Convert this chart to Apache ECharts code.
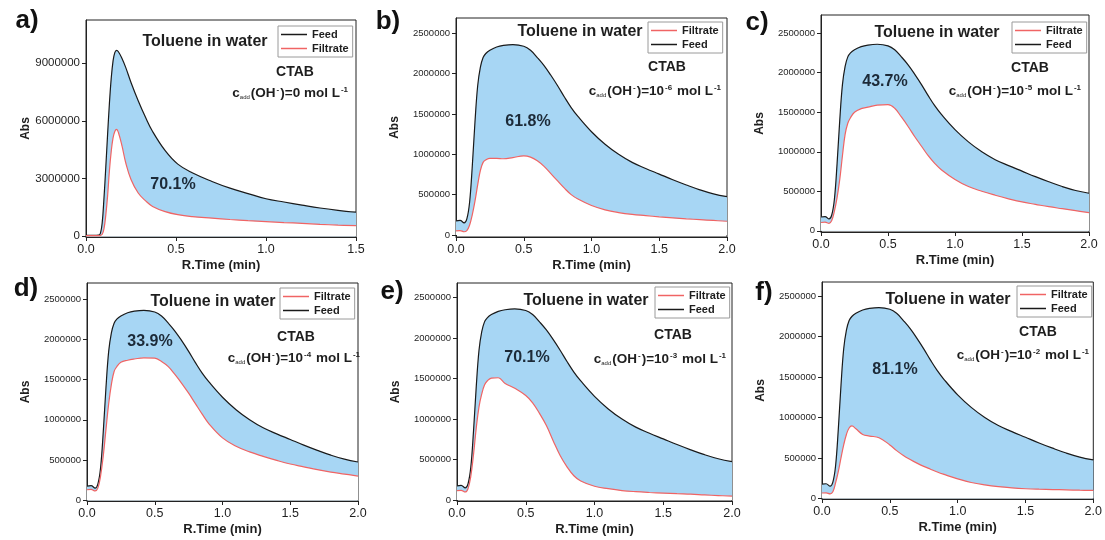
<!DOCTYPE html>
<html>
<head>
<meta charset="utf-8">
<script src="https://cdn.jsdelivr.net/npm/echarts@6/dist/echarts.min.js"></script>
<style>
  html, body { margin: 0; padding: 0; background: #ffffff; }
  #chart { width: 1105px; height: 540px; }
</style>
</head>
<body>
<div id="chart"></div>
<script>
// ---- Chromatogram traces: R.Time (min) vs Abs ----
// Panel a (no added OH-)
const timeA = [0, 0.04, 0.07, 0.08, 0.09, 0.10, 0.11, 0.12, 0.13, 0.14, 0.15, 0.16, 0.17, 0.18, 0.20, 0.22, 0.25, 0.29, 0.33, 0.37, 0.44, 0.51, 0.59, 0.70, 0.80, 0.90, 1.00, 1.10, 1.20, 1.30, 1.40, 1.50];
const feedA = [50000, 50000, 60000, 150000, 700000, 2000000, 3600000, 5300000, 6900000, 8200000, 9100000, 9550000, 9670000, 9600000, 9250000, 8800000, 8000000, 7050000, 6200000, 5450000, 4450000, 3750000, 3300000, 2850000, 2500000, 2220000, 1950000, 1780000, 1620000, 1470000, 1350000, 1250000];
const filtrateA = [30000, 30000, 30000, 40000, 100000, 400000, 1100000, 2100000, 3400000, 4400000, 5100000, 5450000, 5560000, 5400000, 4700000, 3850000, 2950000, 2250000, 1850000, 1550000, 1280000, 1120000, 1020000, 940000, 870000, 810000, 760000, 710000, 670000, 620000, 580000, 550000];

// Panels b-f share the same feed trace
const timeBF = [0, 0.03, 0.06, 0.08, 0.10, 0.12, 0.14, 0.16, 0.18, 0.20, 0.22, 0.25, 0.30, 0.35, 0.42, 0.50, 0.55, 0.60, 0.65, 0.70, 0.75, 0.80, 0.85, 0.90, 1.0, 1.1, 1.2, 1.3, 1.4, 1.5, 1.6, 1.7, 1.8, 1.9, 2.0];
const feedBF = [175000, 180000, 150000, 200000, 400000, 850000, 1400000, 1850000, 2080000, 2200000, 2250000, 2290000, 2330000, 2350000, 2360000, 2340000, 2290000, 2200000, 2100000, 1980000, 1850000, 1710000, 1580000, 1470000, 1280000, 1125000, 1000000, 900000, 825000, 755000, 685000, 620000, 560000, 510000, 475000];
const filtrateB = [50000, 55000, 40000, 55000, 120000, 250000, 420000, 620000, 800000, 900000, 930000, 950000, 950000, 945000, 960000, 980000, 965000, 920000, 850000, 760000, 670000, 580000, 500000, 445000, 365000, 312000, 278000, 255000, 240000, 225000, 212000, 200000, 190000, 180000, 170000];
const filtrateC = [105000, 110000, 95000, 130000, 250000, 420000, 650000, 950000, 1220000, 1360000, 1430000, 1500000, 1545000, 1565000, 1590000, 1595000, 1550000, 1440000, 1320000, 1190000, 1070000, 950000, 850000, 770000, 650000, 560000, 500000, 450000, 405000, 365000, 335000, 305000, 280000, 255000, 230000];
const filtrateD = [130000, 135000, 115000, 150000, 300000, 550000, 880000, 1200000, 1440000, 1600000, 1660000, 1715000, 1740000, 1755000, 1770000, 1765000, 1725000, 1660000, 1560000, 1450000, 1330000, 1200000, 1070000, 950000, 775000, 670000, 600000, 545000, 495000, 450000, 415000, 380000, 350000, 325000, 300000];
const filtrateE = [115000, 120000, 100000, 140000, 290000, 560000, 890000, 1150000, 1310000, 1420000, 1470000, 1505000, 1510000, 1440000, 1380000, 1290000, 1200000, 1070000, 920000, 730000, 550000, 410000, 300000, 235000, 170000, 140000, 117000, 103000, 93000, 85000, 78000, 72000, 63000, 55000, 48000];
const filtrateF = [65000, 68000, 55000, 80000, 190000, 330000, 500000, 660000, 790000, 870000, 895000, 860000, 790000, 770000, 750000, 660000, 590000, 530000, 480000, 435000, 395000, 360000, 325000, 295000, 240000, 195000, 165000, 143000, 128000, 118000, 112000, 108000, 104000, 100000, 97000];

// ---- Tick labels and annotations ----
const yTicksA = [0, 3000000, 6000000, 9000000];
const yTicksBF = [0, 500000, 1000000, 1500000, 2000000, 2500000];
const panelLetters = ['a)', 'b)', 'c)', 'd)', 'e)', 'f)'];
const removalLabels = ['70.1%', '61.8%', '43.7%', '33.9%', '70.1%', '81.1%'];
const ohExponents = ['0', '-6', '-5', '-4', '-3', '-2'];
const legendOrders = [['Feed', 'Filtrate'], ['Filtrate', 'Feed'], ['Filtrate', 'Feed'], ['Filtrate', 'Feed'], ['Filtrate', 'Feed'], ['Filtrate', 'Feed']];

const traces = [
  { time: timeA, feed: feedA, filtrate: filtrateA },
  { time: timeBF, feed: feedBF, filtrate: filtrateB },
  { time: timeBF, feed: feedBF, filtrate: filtrateC },
  { time: timeBF, feed: feedBF, filtrate: filtrateD },
  { time: timeBF, feed: feedBF, filtrate: filtrateE },
  { time: timeBF, feed: feedBF, filtrate: filtrateF }
];

// ---- Layout of the six panels (pixels) ----
const layout = [
  { grid: [86, 20, 270, 217], xMax: 1.5, yMin: -40000, yMax: 11250000, yTicks: yTicksA, yLabelSize: 11.5,
    letter: [27, 21], title: [205, 42], legend: [278, 26], ctab: [295, 72], conc: [349, 93], pct: [173, 185] },
  { grid: [456, 18, 271, 219], xMax: 2, yMin: -25000, yMax: 2690000, yTicks: yTicksBF, yLabelSize: 9.5,
    letter: [388, 22], title: [580, 32], legend: [648, 22], ctab: [667, 67], conc: [722, 91], pct: [528, 122] },
  { grid: [821, 15, 268, 217], xMax: 2, yMin: -15000, yMax: 2730000, yTicks: yTicksBF, yLabelSize: 9.5,
    letter: [757, 23], title: [937, 33], legend: [1012, 22], ctab: [1030, 68], conc: [1082, 91], pct: [885, 82] },
  { grid: [87, 283, 271, 218], xMax: 2, yMin: -10000, yMax: 2700000, yTicks: yTicksBF, yLabelSize: 9.5,
    letter: [26, 289], title: [213, 302], legend: [280, 288], ctab: [296, 337], conc: [361, 358], pct: [150, 342] },
  { grid: [457, 283, 275, 218], xMax: 2, yMin: -12000, yMax: 2680000, yTicks: yTicksBF, yLabelSize: 9.5,
    letter: [392, 292], title: [586, 301], legend: [655, 287], ctab: [673, 335], conc: [727, 359], pct: [527, 358] },
  { grid: [822, 282, 272, 217], xMax: 2, yMin: -9000, yMax: 2677000, yTicks: yTicksBF, yLabelSize: 9.5,
    letter: [764, 293], title: [948, 300], legend: [1017, 286], ctab: [1038, 332], conc: [1090, 355], pct: [895, 370] }
];

const FONT = '"Liberation Sans", Arial, Helvetica, sans-serif';
const FILL_BLUE = '#a7d6f4';
const FEED_COLOR = '#1a1a1a';
const FILTRATE_COLOR = '#f06464';
const TEXT_COLOR = '#1e1e1e';

const grids = [], xAxes = [], yAxes = [], series = [], legends = [], graphics = [];

layout.forEach((p, i) => {
  grids.push({
    left: p.grid[0], top: p.grid[1], width: p.grid[2], height: p.grid[3],
    show: true, borderColor: '#222', borderWidth: 1, backgroundColor: 'transparent'
  });
  xAxes.push({
    gridIndex: i, type: 'value', min: 0, max: p.xMax, interval: 0.5,
    name: 'R.Time (min)', nameLocation: 'middle', nameGap: 22,
    nameTextStyle: { fontFamily: FONT, fontWeight: 'bold', fontSize: 13, color: TEXT_COLOR },
    axisLine: { show: true, onZero: false, lineStyle: { color: '#222', width: 1 } },
    axisTick: { show: true, inside: false, length: 4, lineStyle: { color: '#222' } },
    axisLabel: { fontFamily: FONT, fontSize: 12.5, color: TEXT_COLOR, margin: 6, formatter: v => v.toFixed(1) },
    splitLine: { show: false }
  });
  yAxes.push({
    gridIndex: i, type: 'value', min: p.yMin, max: p.yMax,
    name: 'Abs', nameLocation: 'middle', nameGap: i === 0 ? 53 : 55,
    nameTextStyle: { fontFamily: FONT, fontWeight: 'bold', fontSize: 12, color: TEXT_COLOR },
    axisLine: { show: true, onZero: false, lineStyle: { color: '#222', width: 1 } },
    axisTick: { show: true, inside: false, length: 4, customValues: p.yTicks, lineStyle: { color: '#222' } },
    axisLabel: { fontFamily: FONT, fontSize: p.yLabelSize, color: TEXT_COLOR, margin: 6,
                 customValues: p.yTicks, formatter: v => String(Math.round(v)) },
    splitLine: { show: false }
  });

  const tr = traces[i];
  const feedPts = tr.time.map((t, k) => [t, tr.feed[k]]);
  const filtPts = tr.time.map((t, k) => [t, tr.filtrate[k]]);
  const common = { type: 'line', xAxisIndex: i, yAxisIndex: i, smooth: 0.4,
                   symbol: 'none', showSymbol: false, animation: false };

  // shaded band between feed and filtrate: feed area in blue, area under filtrate cleared to white
  series.push(Object.assign({}, common, { name: 'feed-band', z: 1, silent: true, data: feedPts,
    lineStyle: { width: 0 }, areaStyle: { color: FILL_BLUE, opacity: 1 } }));
  series.push(Object.assign({}, common, { name: 'filtrate-band', z: 1, silent: true, data: filtPts,
    lineStyle: { width: 0 }, areaStyle: { color: '#ffffff', opacity: 1 } }));

  // traces
  series.push(Object.assign({}, common, { name: 'Feed', z: 3, data: feedPts,
    color: FEED_COLOR, lineStyle: { color: FEED_COLOR, width: 1.2 } }));
  series.push(Object.assign({}, common, { name: 'Filtrate', z: 4, data: filtPts,
    color: FILTRATE_COLOR, lineStyle: { color: FILTRATE_COLOR, width: 1.2 } }));

  legends.push({
    data: legendOrders[i].map(n => ({ name: n, icon: 'rect' })),
    orient: 'vertical', left: p.legend[0], top: p.legend[1],
    itemWidth: 26, itemHeight: 1.5, itemGap: 3, padding: [3, 4, 3, 3],
    borderColor: '#9a9a9a', borderWidth: 1, backgroundColor: '#fff', selectedMode: false,
    textStyle: { fontFamily: FONT, fontSize: 11, fontWeight: 'bold', color: TEXT_COLOR }
  });

  graphics.push(
    { type: 'text', x: p.letter[0], y: p.letter[1], z: 10,
      style: { text: panelLetters[i], fontFamily: FONT, fontSize: 26, fontWeight: 'bold', fill: '#111',
               align: 'center', verticalAlign: 'middle' } },
    { type: 'text', x: p.title[0], y: p.title[1], z: 10,
      style: { text: 'Toluene in water', fontFamily: FONT, fontSize: 16, fontWeight: 'bold', fill: TEXT_COLOR,
               align: 'center', verticalAlign: 'middle' } },
    { type: 'text', x: p.ctab[0], y: p.ctab[1], z: 10,
      style: { text: 'CTAB', fontFamily: FONT, fontSize: 14, fontWeight: 'bold', fill: TEXT_COLOR,
               align: 'center', verticalAlign: 'middle' } },
    { type: 'text', x: p.pct[0], y: p.pct[1], z: 10,
      style: { text: removalLabels[i], fontFamily: FONT, fontSize: 16, fontWeight: 'bold', fill: '#1c2a38',
               align: 'center', verticalAlign: 'middle' } }
  );

  const exp = ohExponents[i];
  const concText = exp === '0'
    ? '{m|c}{s|add}{m|(OH}{p|-}{m|)=0 mol L}{p|-1}'
    : '{m|c}{s|add}{m|(OH}{p|-}{m|)=10}{p|' + exp + '}{m| mol L}{p|-1}';
  graphics.push({
    type: 'text', x: p.conc[0], y: p.conc[1], z: 10,
    style: {
      text: concText, align: 'right', verticalAlign: 'middle', fill: TEXT_COLOR,
      rich: {
        m: { fontFamily: FONT, fontSize: 13.5, fontWeight: 'bold', fill: TEXT_COLOR, lineHeight: 16, verticalAlign: 'middle' },
        s: { fontFamily: FONT, fontSize: 6, fill: TEXT_COLOR, lineHeight: 16, verticalAlign: 'bottom', padding: [0, 1, 1, 0] },
        p: { fontFamily: FONT, fontSize: 8, fontWeight: 'bold', fill: TEXT_COLOR, lineHeight: 16, verticalAlign: 'top', padding: [1, 1, 0, 1] }
      }
    }
  });
});

const chart = echarts.init(document.getElementById('chart'), null, { renderer: 'canvas' });
chart.setOption({
  backgroundColor: '#ffffff',
  animation: false,
  grid: grids,
  xAxis: xAxes,
  yAxis: yAxes,
  legend: legends,
  series: series,
  graphic: graphics
});
</script>
</body>
</html>
